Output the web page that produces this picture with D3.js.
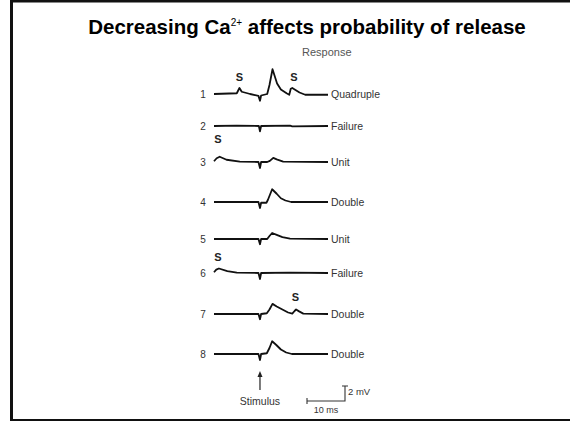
<!DOCTYPE html>
<html>
<head>
<meta charset="utf-8">
<script src="https://cdn.jsdelivr.net/npm/d3@7"></script>
<style>
  body { margin: 0; background: #fff; }
  svg { display: block; font-family: Arial, "Liberation Sans", Helvetica, sans-serif; }
</style>
</head>
<body>
<svg width="570" height="421"></svg>
<script>
// trial numbers, response labels and baseline of each trace
var trials = [1, 2, 3, 4, 5, 6, 7, 8];
var responses = ['Quadruple', 'Failure', 'Unit', 'Double', 'Unit', 'Failure', 'Double', 'Double'];
var baselines = [94, 126, 162, 202, 239, 273, 314, 354];

// traces: [time ms, mV]
var trace1 = [[0,0],[6,0.1],[6.7,0.8],[7.3,0.3],[9.5,0],[11.7,-0.25],[12.1,-0.9],[12.4,-0.2],[14,0],[14.6,1.2],[15.4,3.3],[16.6,1.4],[17.6,0.6],[19.1,0.1],[19.8,-0.1],[20.2,0.7],[20.6,0.8],[22.5,0.2],[24,-0.1],[30,-0.1]];
var trace2 = [[0,0],[6,0.05],[11.8,0],[12.1,-0.7],[12.4,0],[20,0.05],[20.6,-0.05],[30,0]];
var trace3 = [[0,0.1],[0.7,0.5],[1.5,0.7],[3.3,0.3],[6.8,0.05],[11.7,0],[12.1,-0.8],[12.4,0],[14,0],[14.7,0.15],[15.6,0.55],[16.5,0.35],[18.2,0.05],[30,0]];
var trace4 = [[0,0],[11.7,0],[12.1,-0.8],[12.4,-0.1],[13.8,-0.1],[14.2,0.3],[15.3,1.7],[16.5,1.1],[17.6,0.5],[18.8,0.2],[20.3,0],[30,0]];
var trace5 = [[0,0],[11.7,0],[12.1,-0.7],[12.4,0],[14,0],[14.6,0.4],[15.3,0.8],[16.5,0.55],[18,0.25],[20,0.05],[30,0]];
var trace6 = [[0,0.1],[0.6,0.45],[1.3,0.6],[3.5,0.25],[6,0.05],[11.7,0],[12.1,-0.8],[12.4,0],[20,0.05],[30,0]];
var trace7 = [[0,0],[11.7,0],[12.1,-0.7],[12.4,0],[13.9,0.1],[14.6,0.6],[15.4,1.35],[16.5,1.0],[18,0.6],[19.5,0.2],[20.6,0.05],[21.2,0.4],[21.6,0.6],[22.4,0.35],[23.5,0.05],[30,0]];
var trace8 = [[0,0],[11.7,0],[12.1,-0.8],[12.4,0],[13.9,0.1],[14.6,0.8],[15.3,1.7],[16.4,1.2],[17.6,0.6],[19,0.2],[20.5,0],[30,0]];
var traces = [trace1, trace2, trace3, trace4, trace5, trace6, trace7, trace8];

// spontaneous events marked "S": [trial, time ms, mV of label]
var spontaneous = [[1, 6.7, 1.8], [1, 21.0, 1.8], [3, 1.0, 2.6], [6, 1.0, 1.6], [7, 21.4, 1.7]];

var stimulusTime = 12.1;
var scaleMs = 10, scaleMv = 2;

var svg = d3.select('svg');

var x = d3.scaleLinear().domain([0, 30]).range([214, 328]);
var mv = d3.scaleLinear().domain([0, 1]).range([0, -7.5]);

// frame
svg.append('path')
   .attr('d', 'M11.5,421 V1 H570')
   .attr('fill', 'none')
   .attr('stroke', '#111')
   .attr('stroke-width', 3);
svg.append('line')
   .attr('x1', 10).attr('x2', 570)
   .attr('y1', 420).attr('y2', 420)
   .attr('stroke', '#111')
   .attr('stroke-width', 2);

// title
var title = svg.append('text')
   .attr('x', 307)
   .attr('y', 34)
   .style('text-anchor', 'middle')
   .style('font-size', '20.5px')
   .style('font-weight', 'bold')
   .attr('fill', '#000');
title.append('tspan').text('Decreasing Ca');
title.append('tspan').attr('dy', -8).style('font-size', '10px').style('font-weight', 'normal').text('2+');
title.append('tspan').attr('dy', 8).text(' affects probability of release');

svg.append('text')
   .attr('x', 302)
   .attr('y', 56)
   .style('font-size', '11px')
   .attr('fill', '#555')
   .text('Response');

var line = d3.line()
   .x(d => x(d[0]))
   .y(d => mv(d[1]))
   .curve(d3.curveLinear);

var rows = svg.selectAll('g.row')
   .data(trials)
   .enter()
  .append('g')
   .attr('class', 'row')
   .attr('transform', (d, i) => 'translate(0,' + baselines[i] + ')');

rows.append('path')
   .attr('d', (d, i) => line(traces[i]))
   .attr('fill', 'none')
   .attr('stroke', '#111')
   .attr('stroke-width', 1.8)
   .attr('stroke-linejoin', 'round');

rows.append('text')
   .attr('x', 203)
   .attr('dy', '0.35em')
   .style('font-size', '10px')
   .style('text-anchor', 'middle')
   .attr('fill', '#333')
   .text(d => d);

rows.append('text')
   .attr('x', 331)
   .attr('dy', '0.35em')
   .style('font-size', '10.5px')
   .attr('fill', '#333')
   .text((d, i) => responses[i]);

svg.selectAll('text.s')
   .data(spontaneous)
   .enter()
  .append('text')
   .attr('class', 's')
   .attr('x', d => x(d[1]))
   .attr('y', d => baselines[d[0] - 1] + mv(d[2]))
   .style('font-size', '11px')
   .style('font-weight', 'bold')
   .style('text-anchor', 'middle')
   .attr('fill', '#222')
   .text('S');

// stimulus arrow
var sx = x(stimulusTime);
svg.append('line')
   .attr('x1', sx).attr('x2', sx)
   .attr('y1', 390).attr('y2', 374)
   .attr('stroke', '#222')
   .attr('stroke-width', 1.2);
svg.append('path')
   .attr('d', 'M' + (sx - 2.5) + ',377 L' + sx + ',371 L' + (sx + 2.5) + ',377 Z')
   .attr('fill', '#222');
svg.append('text')
   .attr('x', sx)
   .attr('y', 405)
   .style('font-size', '10.5px')
   .style('text-anchor', 'middle')
   .attr('fill', '#333')
   .text('Stimulus');

// scale bar
var bx = 307, by = 401;
var bw = x(scaleMs) - x(0);
var bh = -mv(scaleMv);
svg.append('path')
   .attr('d', 'M' + bx + ',' + (by - 3) + ' V' + (by + 3) +
              ' M' + bx + ',' + by + ' H' + (bx + bw) + ' V' + (by - bh) +
              ' M' + (bx + bw - 3) + ',' + (by - bh) + ' H' + (bx + bw + 3))
   .attr('fill', 'none')
   .attr('stroke', '#333')
   .attr('stroke-width', 1.1);
svg.append('text')
   .attr('x', bx + bw + 3)
   .attr('y', by - bh + 9)
   .style('font-size', '9.5px')
   .attr('fill', '#333')
   .text(scaleMv + ' mV');
svg.append('text')
   .attr('x', bx + bw / 2)
   .attr('y', by + 12)
   .style('font-size', '9px')
   .style('text-anchor', 'middle')
   .attr('fill', '#333')
   .text(scaleMs + ' ms');
</script>
</body>
</html>
